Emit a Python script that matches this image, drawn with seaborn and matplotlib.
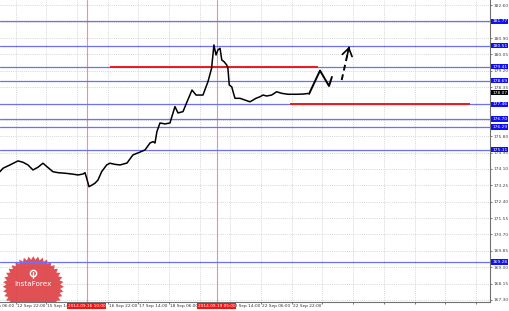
import numpy as np
import pandas as pd
import matplotlib
matplotlib.use("Agg")
import matplotlib.pyplot as plt
import seaborn as sns
from matplotlib.patches import Polygon
from matplotlib.transforms import blended_transform_factory

# ---------------- data ----------------
bar_index = [-8.1, -6.5, -2.9, 1.3, 3.9, 6.5, 9.1, 11.7, 14.3, 16.4, 19.5, 22.1, 25.8, 29.4,
             32.6, 35.2, 36.2, 37.1, 38.3, 39.9, 41.4, 43.0, 44.9, 47.5, 49.2, 51.9, 54.5,
             58.1, 61.2, 64.9, 67.5, 70.1, 71.7, 72.7, 73.7, 75.3, 77.9, 80.5, 83.1, 84.7,
             87.3, 89.4, 92.0, 94.1, 97.7, 100.3, 102.2, 103.4, 104.5, 105.5, 106.6, 107.5,
             108.7, 110.1, 110.7, 111.4, 112.7, 113.4, 114.4, 117.0, 119.6, 122.2, 123.8,
             125.3, 127.4, 129.0, 130.9, 133.5, 136.1, 138.7, 142.0, 146.5, 149.8, 152.4]
close = [173.96, 174.14, 174.31, 174.52, 174.45, 174.31, 174.05, 174.19, 174.40, 174.22,
         173.96, 173.91, 173.88, 173.84, 173.79, 173.84, 173.91, 173.62, 173.18, 173.27,
         173.36, 173.53, 173.96, 174.31, 174.40, 174.34, 174.31, 174.41, 174.83, 174.98,
         175.09, 175.45, 175.52, 175.45, 176.04, 176.49, 176.44, 176.49, 177.34, 177.01,
         177.08, 177.59, 178.20, 177.94, 177.94, 178.63, 179.33, 180.54, 180.02, 180.28,
         180.37, 179.76, 179.67, 179.50, 179.33, 178.46, 178.37, 178.11, 177.77, 177.77,
         177.68, 177.59, 177.68, 177.77, 177.85, 177.94, 177.89, 177.94, 178.11, 178.03,
         177.98, 177.98, 177.99, 178.02]

proj_index = [153.0, 158.7, 163.4, 164.9]
proj_price = [178.00, 179.21, 178.41, 178.88]
arrow_index = [170.0, 173.9]
arrow_price = [178.72, 180.45]

blue_levels = [181.77, 180.51, 179.41, 178.69, 177.46, 176.70, 176.29, 175.11, 169.28]
red_levels = [179.41, 177.46]
red_start = [49.3, 143.0]
red_end = [157.6, 236.8]
current_price = 178.07

event_index = [37.1, 104.8]
event_labels = ["2014.09.16 10:00", "2014.09.19 05:00"]

time_tick_index = [-16, 0, 16, 48, 64, 80, 112, 128, 144]
time_tick_labels = ["12 Sep 06:00", "12 Sep 22:00", "15 Sep 14:00", "16 Sep 22:00",
                    "17 Sep 14:00", "18 Sep 06:00", "19 Sep 14:00", "22 Sep 06:00",
                    "22 Sep 22:00"]
price_ticks = [182.60, 181.75, 180.90, 180.05, 179.20, 178.35, 177.50, 176.65, 175.80,
               174.95, 174.10, 173.25, 172.40, 171.55, 170.70, 169.85, 169.00, 168.15,
               167.30]
# tick labels fully hidden behind level boxes in the reference
hidden_price_ticks = [181.75, 177.50, 176.65]

# ---------------- figure ----------------
sns.set_theme(style="white")
plt.rcParams['font.family'] = ['DejaVu Sans']

W, H = 510, 311
fig = plt.figure(figsize=(W / 100, H / 100), dpi=100)
fig.patch.set_facecolor('white')
ax_b = 301.5
ax = fig.add_axes([0, 1 - ax_b / H, 490 / W, ax_b / H])
ax.set_facecolor('white')
ax.set_xlim(-8.08, 247.3)
ax.set_ylim(167.22, 182.875)

# grid
ax.set_xticks(np.arange(0, 248, 16))
ax.set_xticklabels([])
ax.set_yticks(price_ticks)
ax.set_yticklabels(["" if v in hidden_price_ticks else f"{v:.2f}" for v in price_ticks])
ax.yaxis.tick_right()
ax.tick_params(axis='y', labelsize=3.2, length=1.5, width=0.5, pad=1.2,
               colors='#444444', right=True, left=False)
ax.tick_params(axis='x', length=1.5, width=0.5, colors='#444444', bottom=True)
ax.grid(True, color='#c8c8c8', linestyle=(0, (1.2, 1.6)), linewidth=0.55)
for s in ['left', 'top']:
    ax.spines[s].set_visible(False)
for s in ['right', 'bottom']:
    ax.spines[s].set_color('#707070')
    ax.spines[s].set_linewidth(0.8)

# logo (starburst)
n = 40
ang = np.linspace(0, 2 * np.pi, 2 * n, endpoint=False)
rad = np.where(np.arange(2 * n) % 2 == 0, 30.5, 27.0)
cx, cy = 33.3, 286.7
px = cx + rad * np.cos(ang)
py = cy + rad * np.sin(ang)
pts = np.column_stack([px / 490, 1 - py / ax_b])
star = Polygon(pts, closed=True, transform=ax.transAxes, facecolor='#d8262b',
               edgecolor='none', alpha=0.8, zorder=1)
ax.add_patch(star)
ax.text(cx / 490, 1 - 283.5 / ax_b, "InstaForex", transform=ax.transAxes,
        ha='center', va='center', color='white', fontsize=5.2, zorder=2)
ax.plot([cx / 490], [1 - 272.5 / ax_b], marker='o', ms=4.5, mfc='none', mec='white',
        mew=1.0, transform=ax.transAxes, zorder=2)
ax.plot([cx / 490, cx / 490], [1 - 271.5 / ax_b, 1 - 277.5 / ax_b], color='white',
        lw=1.0, transform=ax.transAxes, zorder=2)

# vertical event lines
for xi in event_index:
    ax.axvline(xi, color='#ff8a8a', lw=0.8, zorder=2)

# horizontal blue levels
for lv in blue_levels:
    ax.axhline(lv, color='#6f6fff', lw=0.9, zorder=2)

# red levels
ax.hlines(red_levels, red_start, red_end, colors='#f01818', lw=1.4, zorder=3)

# price
df = pd.DataFrame({'bar': bar_index, 'price': close})
sns.lineplot(data=df, x='bar', y='price', ax=ax, color='black', lw=1.1,
             estimator=None, sort=False, zorder=4)

# projection
pdf = pd.DataFrame({'bar': proj_index, 'price': proj_price})
sns.lineplot(data=pdf, x='bar', y='price', ax=ax, color='black', lw=1.4,
             estimator=None, sort=False, zorder=5)
ax.plot(arrow_index, arrow_price, color='black', lw=1.4, ls=(0, (3, 2)), zorder=5)
head_from = (arrow_index[1] - 0.3 * (arrow_index[1] - arrow_index[0]),
             arrow_price[1] - 0.3 * (arrow_price[1] - arrow_price[0]))
ax.annotate('', xy=(arrow_index[1], arrow_price[1]), xytext=head_from,
            arrowprops=dict(arrowstyle='->,head_length=0.45,head_width=0.3',
                            color='black', lw=1.2, shrinkA=0, shrinkB=0), zorder=5)
ax.set_xlabel('')
ax.set_ylabel('')

# right side level labels
ty = blended_transform_factory(ax.transAxes, ax.transData)
for lv in blue_levels:
    ax.text(1.0045, lv, f"{lv:.2f}", transform=ty, ha='left', va='center',
            fontsize=3.2, color='white', zorder=6, clip_on=False,
            bbox=dict(facecolor='#1010f0', edgecolor='none', pad=0.5))
ax.text(1.0045, current_price, f"{current_price:.2f}", transform=ty, ha='left',
        va='center', fontsize=3.2, color='white', zorder=6, clip_on=False,
        bbox=dict(facecolor='black', edgecolor='none', pad=0.5))

# time labels
tx = blended_transform_factory(ax.transData, ax.transAxes)
for xi, lab in zip(time_tick_index, time_tick_labels):
    ax.text(xi + 0.6, -0.009, lab, transform=tx, ha='left', va='top', fontsize=3.1,
            color='#333333', clip_on=False, zorder=6)
for xi, lab in zip(event_index, event_labels):
    ax.text(xi, -0.009, lab, transform=tx, ha='center', va='top', fontsize=3.1,
            color='white', clip_on=False, zorder=7,
            bbox=dict(facecolor='#ff1010', edgecolor='none', pad=0.6))

fig.savefig('out.png', dpi=100, facecolor='white')
